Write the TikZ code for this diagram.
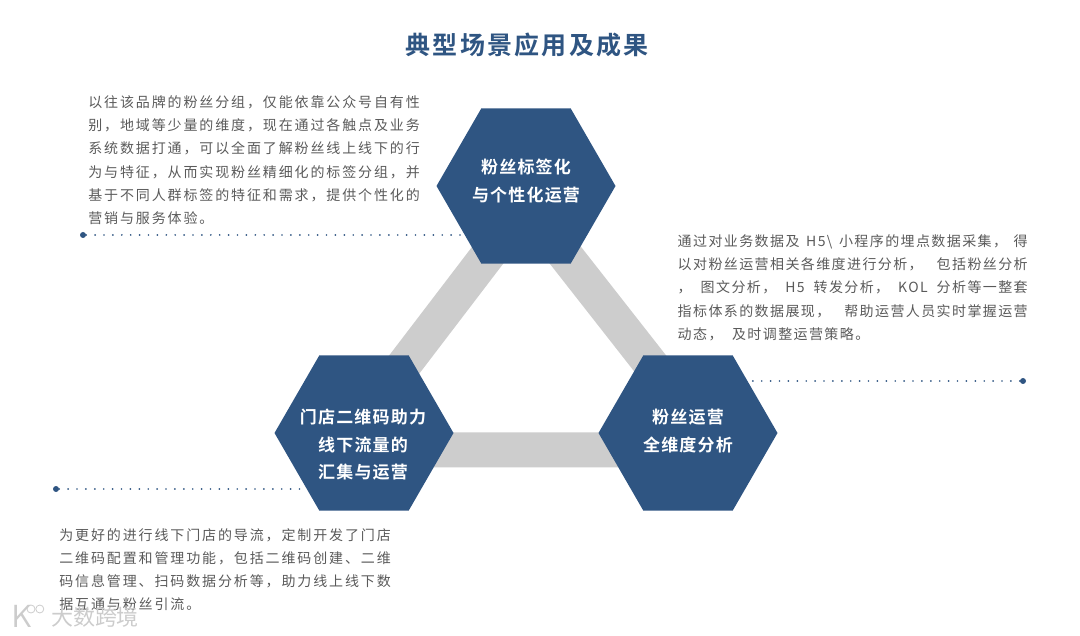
\documentclass[tikz,border=0pt]{standalone}
\usepackage{fontspec}
\usetikzlibrary{shapes.geometric, positioning, calc, backgrounds}
\newfontfamily\titlefont[LetterSpace=9]{Noto Sans CJK SC Bold}
\newfontfamily\hexfont[LetterSpace=7]{Noto Sans CJK SC Bold}
\newfontfamily\bodyfont[LetterSpace=13.4]{Noto Sans CJK SC}
\newfontfamily\rightfont[LetterSpace=10]{Noto Sans CJK SC}
\newfontfamily\markfont{Noto Sans CJK SC}
\definecolor{hexblue}{HTML}{2F5582}
\definecolor{bargray}{HTML}{CDCDCD}
\definecolor{bodygray}{HTML}{5A5A5A}
\newcommand{\fitline}[1]{\makebox[350pt][s]{#1}}

\begin{document}
\begin{tikzpicture}[
      x=1pt, y=-1pt,
      hexa/.style={regular polygon, regular polygon sides=6, minimum size=179pt, inner sep=0pt, outer sep=0pt, fill=hexblue},
      hextext/.style={inner sep=0pt, text=white, align=center, font=\hexfont\fontsize{17}{27.5}\selectfont},
      bar/.style={draw=bargray, line width=35pt},
      dotnode/.style={circle, fill=hexblue, inner sep=0pt, minimum size=6pt},
      leader/.style={hexblue, line width=1.9pt, line cap=round, dash pattern=on 0pt off 8.9pt},
      para/.style={inner sep=0pt, outer sep=0pt, align=left, text=bodygray, font=\bodyfont\fontsize{14}{23.2}\selectfont},
      parb/.style={para, font=\rightfont\fontsize{14}{23.2}\selectfont}
    ]
    \useasboundingbox (0,0) rectangle (1080,636);

    \node[font=\titlefont\fontsize{25}{30}\selectfont, text=hexblue, inner sep=0pt] (title) at (527,45) {典型场景应用及成果};

    \node[hexa] (tag) at (526,186) {};
    \node[hexa, on grid, below left=247pt and 162pt of tag] (store) {};
    \node[hexa, on grid, right=324pt of store] (dim) {};

    \node[hextext] (tagtext) at ([yshift=5pt]tag.center) {粉丝标签化\\与个性化运营};
    \node[hextext] (storetext) at ([shift={(-1pt,-12pt)}]store.center) {门店二维码助力\\线下流量的\\汇集与运营};
    \node[hextext] (dimtext) at ([yshift=2pt]dim.center) {粉丝运营\\全维度分析};

    \node[dotnode] (dota) at (83,235) {};
    \node[dotnode] (dotb) at (1023,381) {};
    \node[dotnode] (dotc) at (56,489) {};

    \node[para, above right=8pt and 3pt of dota] (texta) {以往该品牌的粉丝分组，仅能依靠公众号自有性\\别，地域等少量的维度，现在通过各触点及业务\\系统数据打通，可以全面了解粉丝线上线下的行\\为与特征，从而实现粉丝精细化的标签分组，并\\基于不同人群标签的特征和需求，提供个性化的\\营销与服务体验。};
    \node[parb, above left=38pt and -7pt of dotb] (textb) {\fitline{通过对业务数据及 H5\textbackslash{} 小程序的埋点数据采集， 得}\\\fitline{以对粉丝运营相关各维度进行分析， 包括粉丝分析}\\\fitline{， 图文分析， H5 转发分析， KOL 分析等一整套}\\\fitline{指标体系的数据展现， 帮助运营人员实时掌握运营}\\动态，\hspace{5pt} 及时调整运营策略。};
    \node[para, below right=37pt and 1pt of dotc] (textc) {为更好的进行线下门店的导流，定制开发了门店\\二维码配置和管理功能，包括二维码创建、二维\\码信息管理、扫码数据分析等，助力线上线下数\\据互通与粉丝引流。};

    \node[font=\markfont\fontsize{22}{24}\selectfont, text=black!20, inner sep=0pt] (mark) at (95,617) {大数跨境};
    \node[font=\sffamily\fontsize{32}{32}\selectfont, text=black!20, inner sep=0pt] (logo) at (22,616) {K};
    \node[circle, draw=black!20, thick, minimum size=8pt, inner sep=0pt] (ringa) at (31,609) {};
    \node[circle, draw=black!20, thick, minimum size=8pt, inner sep=0pt, right=0pt of ringa] (ringb) {};

    \begin{scope}[on background layer]
      \coordinate (ctop) at ([yshift=-19pt]tag.center);
      \coordinate (cleft) at ([shift={(-25pt,-17pt)}]store.center);
      \coordinate (cright) at ([shift={(30pt,-17pt)}]dim.center);
      \draw[bar] (ctop) -- (cleft) -- (cright) -- cycle;
      \draw[leader] (dota) -- (dota -| tag);
      \draw[leader] (dotb) -- (dotb -| dim);
      \draw[leader] (dotc) -- (dotc -| store);
    \end{scope}
  \end{tikzpicture}
\end{document}
